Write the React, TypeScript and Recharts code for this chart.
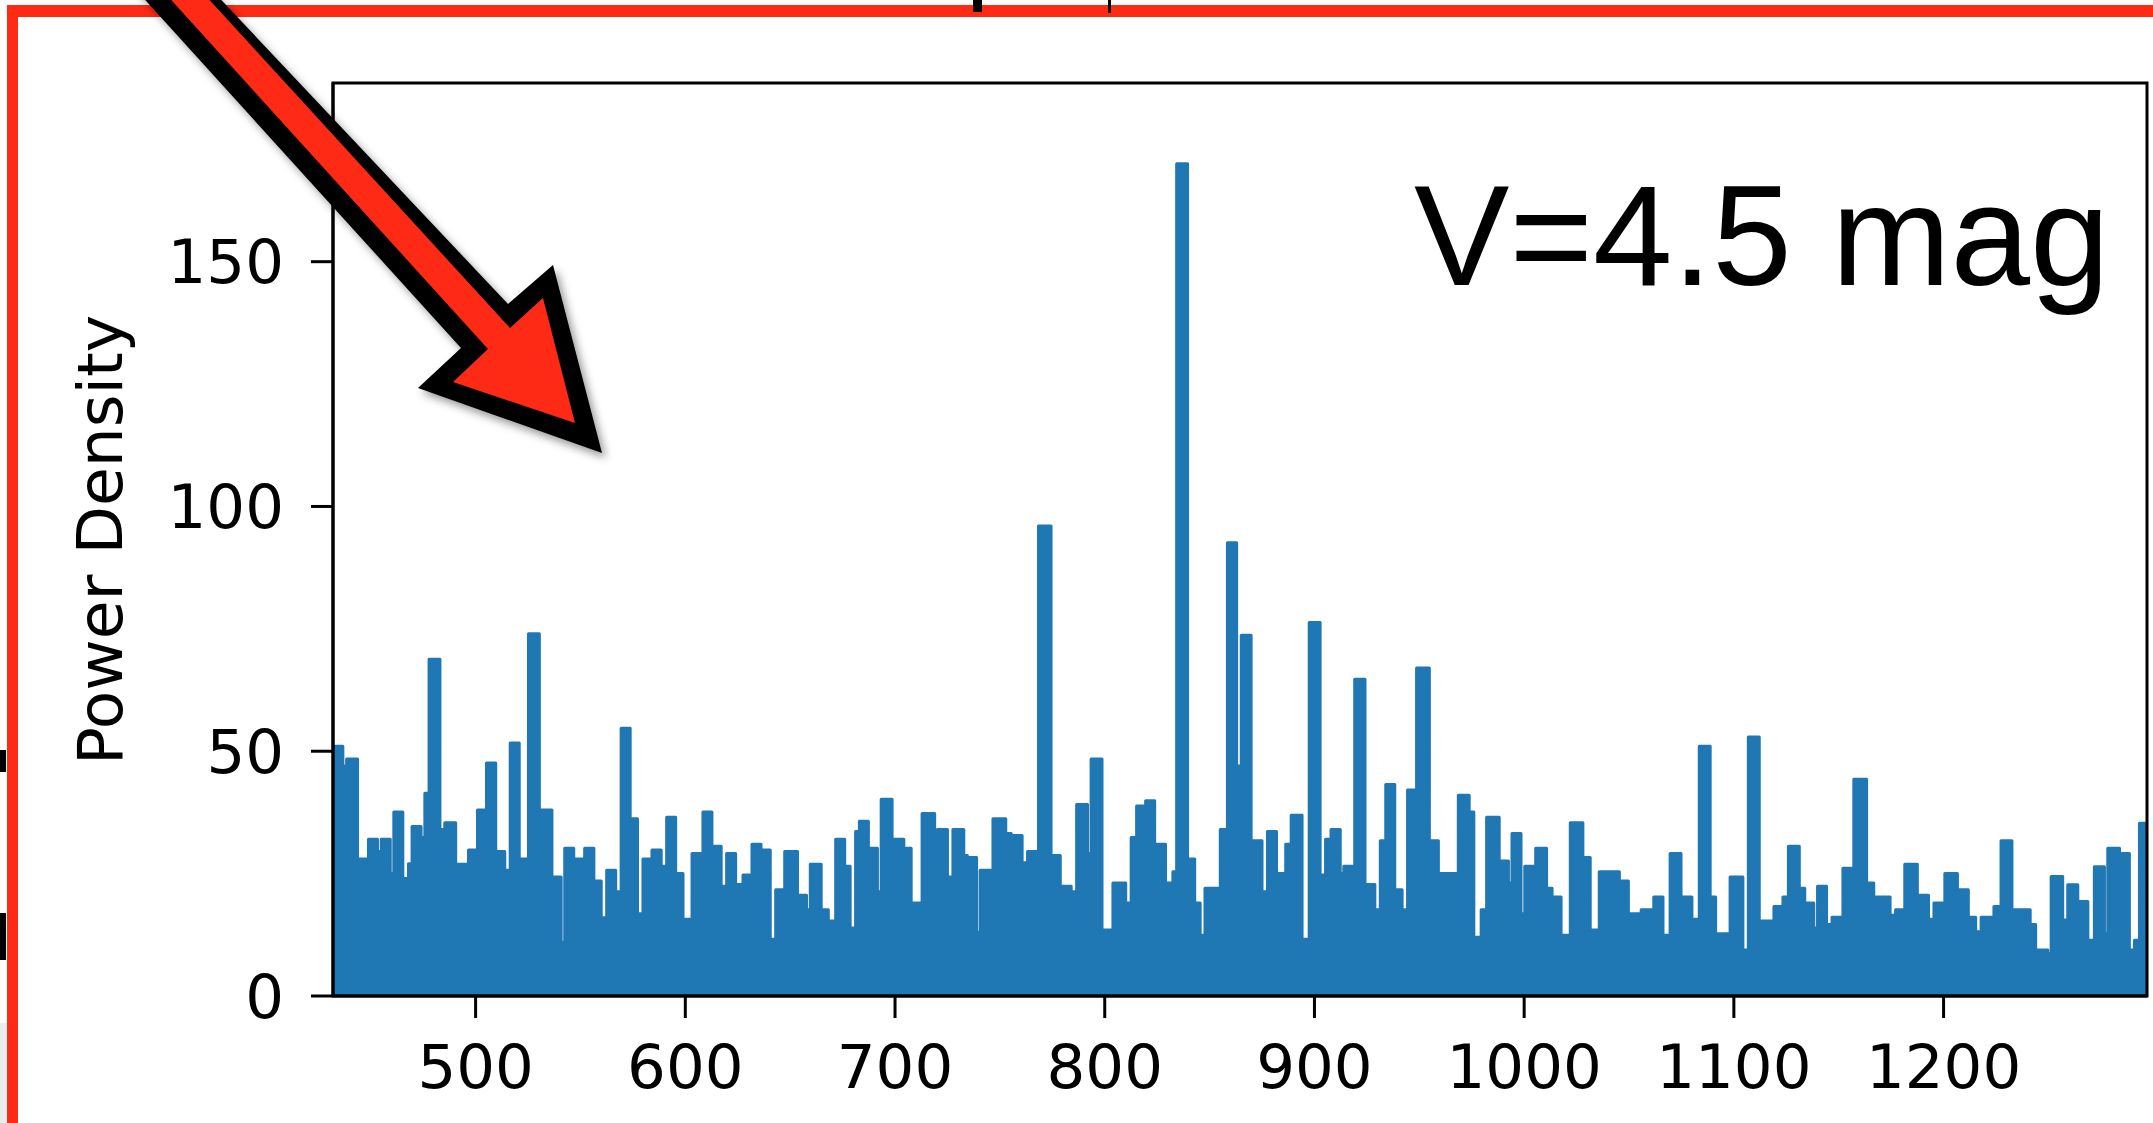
import { AreaChart, Area, XAxis, YAxis, ReferenceArea } from "recharts";

// power spectrum: each entry starts a level that holds until the next frequency
const freq = [
  432, 436.7, 438.5, 443.7, 448.9, 453.2, 455, 459.3, 461, 465.3,
  468, 469.7, 474, 475.8, 477.8, 483, 485.3, 490.5, 496.6, 500.9,
  505.2, 509.6, 513.9, 516.5, 520.8, 525.2, 530.4, 536.4, 540.8, 542.5,
  546.8, 552, 556.4, 559.9, 562.5, 566.8, 569.4, 573.7, 577.2, 579.8,
  584.1, 588.5, 591.1, 595.4, 598.9, 603.2, 608.4, 612.7, 617.1, 619.7,
  624, 627.5, 631.8, 636.1, 640.5, 643.1, 647.4, 653.5, 657.8, 659.6,
  664.8, 668.2, 671.7, 676, 678.6, 681.2, 683, 687.3, 691.6, 693.4, 698.6,
  704.2, 707.7, 712.9, 718.9, 720.2, 725, 727.6, 732.8, 734.5, 738.9,
  740.6, 746.7, 752.8, 755.4, 760.6, 763.2, 768.4, 774.4, 778.8, 784,
  786.6, 791.8, 793.5, 798.7, 803.9, 810, 812.6, 815.2, 819.5, 823.8,
  829, 832.5, 834.3, 839.5, 842.9, 845.5, 847.8, 855.1, 858.5, 862.9,
  865.1, 869.8, 875, 877.6, 881.9, 886.3, 888.9, 894.1, 897.5, 902.7,
  905.3, 907.9, 912.3, 914, 919.2, 924.1, 928.8, 931.4, 934, 938.3,
  941.8, 944.4, 948.7, 954.8, 959.1, 968.6, 973.8,
  976, 979.5, 982.1, 988.1, 992.5, 994.2, 998.5, 1000.3, 1005.5, 1010.7,
  1013.3, 1017.6, 1022, 1028, 1031.5, 1035.8, 1045.4, 1049.7, 1055.8, 1061.8,
  1066.2, 1069.6, 1074.8, 1080, 1083.5, 1088.7, 1091.3, 1098.2, 1104.3, 1106.9,
  1112.1, 1119.1, 1123.4, 1126, 1131.2, 1133.8, 1138.1, 1139.9, 1144.2, 1146.8,
  1152, 1157.2, 1163.3, 1166.7, 1174.5, 1177.1, 1181.5, 1187.5, 1192.8, 1195.4,
  1200.6, 1206.6, 1211.8, 1215.3, 1217.9, 1224, 1227.4, 1232.6, 1241.3, 1243.9,
  1249.7, 1251.3, 1256.8, 1259.2, 1264, 1268.8, 1271.9, 1276.7, 1278.3, 1283.9,
  1288.6, 1291, 1293.4, 1297,
];
const power = [
  51, 47, 48.4, 28, 32, 29.5, 32, 25, 37.6, 24,
  27, 34.6, 32.4, 41.4, 68.8, 34, 35.4, 26.9, 29.8, 38,
  47.6, 29.5, 25.7, 51.7, 28, 74, 38, 24.3, 11, 30.2,
  28, 30.2, 23.5, 16, 25.7, 21.3, 54.7, 36.2, 16.8, 28,
  29.8, 26.5, 36.5, 25, 15.7, 29.1, 37.6, 30.6, 22.4, 29.1,
  22.8, 24.7, 31, 29.8, 11.6, 21.7, 29.5, 20.6, 17.6, 26.9,
  17.6, 15.3, 32, 26.5, 13.9, 33.6, 35.7, 30.2, 21.3, 40.2, 32,
  30.2, 19, 37.3, 23.5, 34, 24.3, 34, 28.7, 28.3, 13,
  25.7, 36.2, 33.2, 32.8, 27.2, 29.5, 96, 28.7, 22.4, 21.3,
  39.1, 29.1, 48.4, 13.5, 23.1, 19, 32.4, 38.8, 39.9, 31,
  23.1, 25.4, 170, 28, 19, 12.4, 22, 34, 92.6, 47,
  73.7, 31.7, 21.3, 33.6, 25, 31, 36.9, 11.6, 76.3, 24.7,
  32, 34, 25, 26.5, 64.7, 22.8, 17.6, 31.7, 43.2, 21.7,
  17.6, 42.1, 67, 31.7, 25, 41, 37.6,
  12, 17.6, 36.5, 27.6, 23.1, 33.2, 16.8, 26.5, 30.2, 22,
  20.2, 12.4, 35.4, 28.3, 13.5, 25.4, 23.5, 16.8, 17.6, 20.2,
  12.4, 29.1, 20.2, 15.7, 51, 20.2, 12.7, 24.3, 9.4, 52.9,
  15.3, 18.3, 20.2, 30.6, 22, 19, 13.9, 22.4, 14.6, 16.1,
  26.1, 44.3, 23.1, 20.2, 16.5, 17.6, 26.9, 20.6, 15.7, 19,
  25, 21.7, 16.1, 13.1, 16.1, 18.3, 31.7, 17.6, 14.6, 9.4,
  8.7, 24.4, 15.5, 22.7, 19.3, 11.4, 26.4, 12.8, 30.2, 29.1,
  9.4, 11.4, 35.3, 35.3,
];
const xTicks = [500, 600, 700, 800, 900, 1000, 1100, 1200];
const yTicks = [0, 50, 100, 150];
const xDomain = [432, 1297];
const yDomain = [0, 186.5];

const data = freq.map((f, i) => ({ f, p: power[i] }));

const W = 2153;
const H = 1123;
const BLUE = "#1f77b4";
const RED = "#ff2a14";
const tickStyle = { fill: "#000", fontSize: 61, fontFamily: "DejaVu Sans" };
const line = { stroke: "#000", strokeWidth: 3 };

// the slide arrow drawn over the figure
const arrowOuter = "118,-30 193,-30 508,304 553,265 602,453 418,388 461,348";
const arrowInner = "144,-30 182,-30 510,328 543,298 575,423 453,382 488,349";

export default function App() {
  return (
    <div style={{ position: "absolute", left: 0, top: 0, width: W, height: H, background: "#fff" }}>
      <AreaChart width={W} height={H} data={data} margin={{ top: 83, right: 6, bottom: 0, left: 0 }}>
        <XAxis dataKey="f" type="number" domain={xDomain} ticks={xTicks} interval={0}
          allowDataOverflow height={127} tickSize={22} tickMargin={27}
          tick={tickStyle} axisLine={line} tickLine={line} />
        <YAxis type="number" domain={yDomain} ticks={yTicks} interval={0}
          allowDataOverflow width={333} tickSize={22} tickMargin={27}
          tick={tickStyle} axisLine={line} tickLine={line} />
        <Area dataKey="p" type="stepAfter" stroke={BLUE} strokeWidth={3} strokeLinejoin="round"
          fill={BLUE} fillOpacity={1} dot={false} activeDot={false} isAnimationActive={false} />
        <ReferenceArea x1={xDomain[0]} x2={xDomain[1]} y1={yDomain[0]} y2={yDomain[1]}
          fill="none" stroke="#000" strokeWidth={3} ifOverflow="visible" />
      </AreaChart>

      <svg width={W} height={H} style={{ position: "absolute", left: 0, top: 0, pointerEvents: "none" }}>
        <defs>
          <filter id="arrowShadow" x="-20%" y="-20%" width="140%" height="140%">
            <feDropShadow dx="4" dy="5" stdDeviation="4" floodColor="#000" floodOpacity="0.4" />
          </filter>
        </defs>
        <text transform="translate(122,540) rotate(-90)" textAnchor="middle"
          fontSize={63} fontFamily="DejaVu Sans" fill="#000">Power Density</text>
        <text x={1414} y={285} fontSize={143} fontFamily="Liberation Sans, Arial, sans-serif" fill="#000">
          V=4.5 mag
        </text>

        {/* slide frame and bits of the slide outside it */}
        <rect x={7} y={5} width={W - 7} height={12} fill={RED} />
        <rect x={7} y={5} width={11} height={H - 5} fill={RED} />
        <rect x={0} y={1023} width={7} height={100} fill="#ececec" />
        <rect x={0} y={750} width={6} height={22} fill="#000" />
        <rect x={0} y={913} width={6} height={47} fill="#000" />
        <rect x={973} y={0} width={9} height={12} fill="#000" />
        <rect x={1108} y={0} width={3} height={13} fill="#000" />

        <g filter="url(#arrowShadow)">
          <polygon points={arrowOuter} fill="#000" />
          <polygon points={arrowInner} fill={RED} />
        </g>
      </svg>
    </div>
  );
}
